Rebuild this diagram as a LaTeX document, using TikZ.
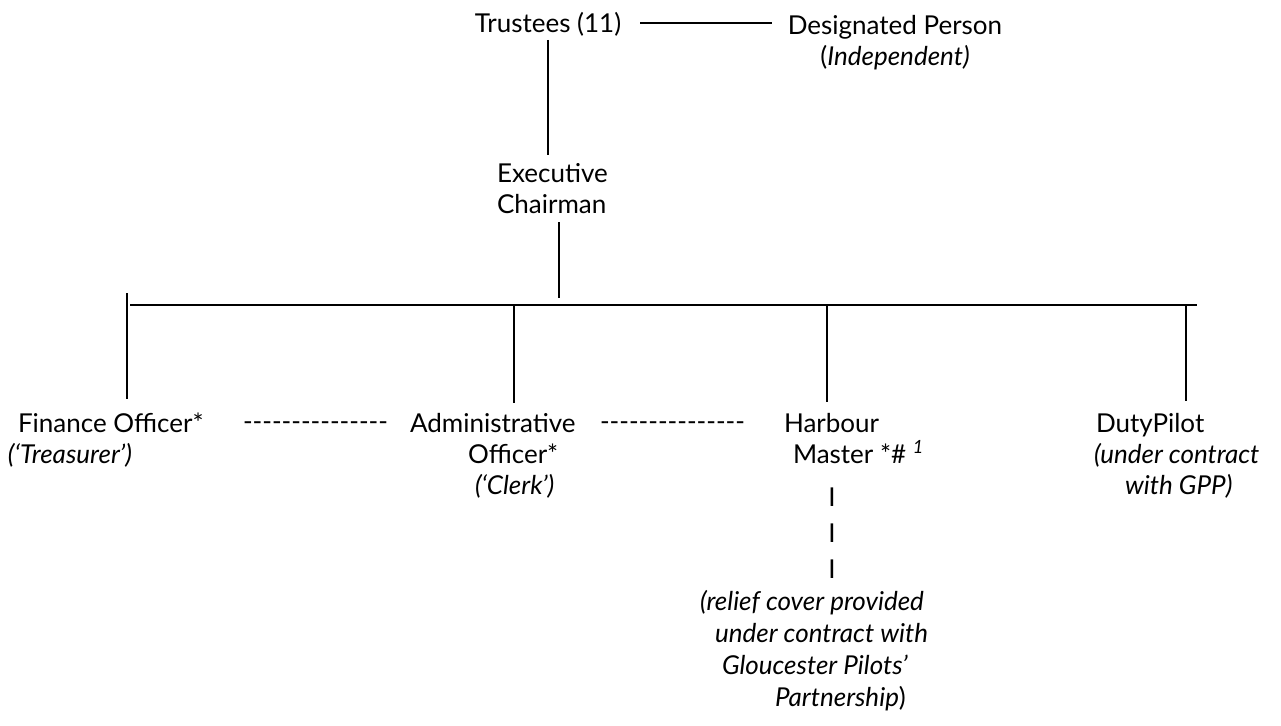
\documentclass[tikz,border=0pt]{standalone}
\usepackage{fontspec}
\setmainfont{Lato}
\newcommand\hyphrow{\mbox{-}\mbox{-}\mbox{-}\mbox{-}\mbox{-}\mbox{-}\mbox{-}\mbox{-}\mbox{-}\mbox{-}\mbox{-}\mbox{-}\mbox{-}\mbox{-}\mbox{-}}
\begin{document}
\begin{tikzpicture}[x=1pt,y=-1pt,
  txt/.style={inner sep=0pt,outer sep=0pt,font=\fontsize{26}{31}\selectfont},
  conn/.style={line width=1.6pt,black}]
\useasboundingbox (0,0) rectangle (1281,725);
% nodes (anchor base = baseline of the last line)
\node[txt,anchor=base] (trust) at (548,33) {Trustees (11)};
\node[txt,align=center,anchor=base] (desig) at (895,65) {Designated Person\\(\textit{Independent)}};
\node[txt,align=left,anchor=base west] (exec) at (497,213) {Executive\\Chairman};
\node[txt,align=left,anchor=base west] (fin) at (8,463) {\hspace*{10pt}Finance Officer*\\\textit{(‘Treasurer’)}};
\node[txt,anchor=base west] (dashA) at (243,430) {\hyphrow};
\node[txt,align=left,anchor=base west] (admin) at (410,494) {Administrative\\\hspace*{58pt}Officer*\\\hspace*{65pt}\textit{(‘Clerk’)}};
\node[txt,anchor=base west] (dashB) at (600,430) {\hyphrow};
\node[txt,align=left,anchor=base west] (harb) at (784,463) {Harbour\\\hspace*{9pt}Master *\# \textsuperscript{\textit{1}}};
\node[txt,align=center,anchor=base,font=\fontsize{26}{36}\selectfont] (bars) at (832,578) {I\\I\\I};
\node[txt,align=left,anchor=base west,font=\fontsize{26}{32}\selectfont] (relief) at (700,706)
  {\textit{(relief cover provided}\\\hspace*{15pt}\textit{under contract with}\\\hspace*{22pt}\textit{Gloucester Pilots’}\\\hspace*{75pt}\textit{Partnership})};
\node[txt,align=left,anchor=base west] (duty) at (1094,494) {\hspace*{2pt}DutyPilot\\\textit{(under contract}\\\hspace*{31pt}\textit{with GPP)}};
% coordinates
\coordinate (cx) at (559,298);
\coordinate (busL) at (130,305);
\coordinate (busR) at (1197,305);
\coordinate (d1) at (127,293);
\coordinate (d2) at (514,305);
\coordinate (d3) at (827,305);
\coordinate (d4) at (1186,305);
% connectors
\draw[conn] ([xshift=19pt,yshift=2pt]trust.east) -- ([xshift=-16pt,yshift=2pt]trust.east -| desig.west);
\draw[conn] ([yshift=-3pt]trust.south) -- ([yshift=8pt]trust.south |- exec.north);
\draw[conn] ([yshift=-9pt]exec.south -| cx) -- (cx);
\draw[conn] (busL) -- (busR);
\draw[conn,shorten >=13pt] (d1) -- (d1 |- fin.north);
\draw[conn,shorten >=10pt] (d2) -- (d2 |- admin.north);
\draw[conn,shorten >=11pt] (d3) -- (d3 |- harb.north);
\draw[conn,shorten >=12pt] (d4) -- (d4 |- duty.north);
\end{tikzpicture}
\end{document}
